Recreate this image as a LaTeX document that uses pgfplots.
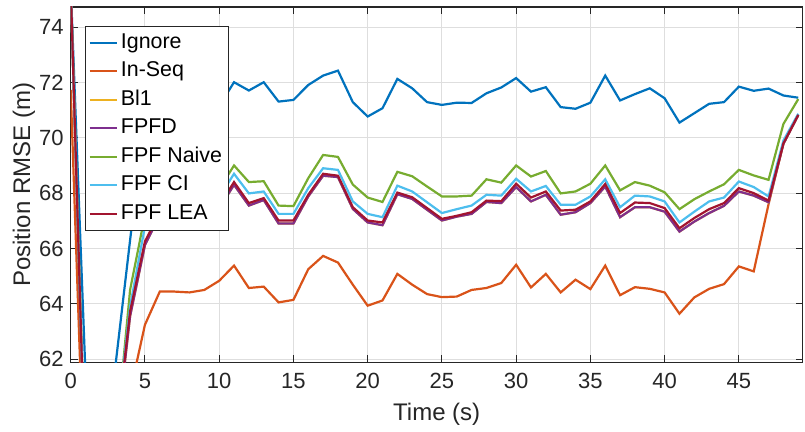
\documentclass[border=0pt]{standalone}
\usepackage{fontspec}
\setmainfont{Liberation Sans}
\usepackage{pgfplots}
\usepackage{pgfplotstable}
\pgfplotsset{compat=1.18}

% MATLAB default line colours
\definecolor{mBlue}{rgb}{0,0.447,0.741}
\definecolor{mOrange}{rgb}{0.850,0.325,0.098}
\definecolor{mYellow}{rgb}{0.929,0.694,0.125}
\definecolor{mPurple}{rgb}{0.494,0.184,0.556}
\definecolor{mGreen}{rgb}{0.466,0.674,0.188}
\definecolor{mCyan}{rgb}{0.301,0.745,0.933}
\definecolor{mRed}{rgb}{0.635,0.078,0.184}
\definecolor{axGray}{rgb}{0.15,0.15,0.15}

% Position RMSE per time step for each fusion strategy
\pgfplotstableread{
t  ign    inseq  bl1    fpfd   naive  ci     lea
0  75.5   71.73  75.5   75.5   75.5   75.5   75.5
1  61.4   56.1   57.2   57.2   57.8   57.6   57.5
2  59.0   55.0   55.8   55.8   56.0   56.0   56.0
3  61.7   57.0   58.8   58.8   58.8   59.2   59.0
4  66.3   60.8   63.55  63.55  64.5   63.9   63.72
5  70.8   63.24  66.12  66.12  67.2   66.8   66.25
6  71.6   64.44  67.2   67.2   68.3   67.8   67.3
7  71.3   64.44  67.5   67.5   68.6   68.1   67.6
8  71.8   64.41  67.3   67.3   68.4   67.9   67.4
9  71.5   64.5   67.6   67.6   68.7   68.2   67.7
10 71.15  64.83  67.45  67.45  68.15  67.85  67.55
11 72.01  65.38  68.3   68.3   69.0   68.7   68.4
12 71.71  64.57  67.55  67.55  68.4   67.99  67.64
13 72.01  64.62  67.75  67.75  68.43  68.06  67.82
14 71.31  64.05  66.9   66.9   67.55  67.25  67.01
15 71.37  64.14  66.9   66.9   67.53  67.25  67.01
16 71.91  65.25  67.88  67.88  68.54  68.18  67.94
17 72.25  65.73  68.63  68.63  69.38  68.9   68.7
18 72.43  65.49  68.58  68.58  69.31  68.84  68.63
19 71.29  64.69  67.43  67.43  68.31  67.7   67.49
20 70.77  63.93  66.94  66.94  67.84  67.25  67.01
21 71.07  64.12  66.84  66.84  67.68  67.13  66.94
22 72.13  65.08  67.96  67.96  68.77  68.27  68.02
23 71.79  64.69  67.79  67.79  68.61  68.06  67.85
24 71.29  64.35  67.4   67.4   68.24  67.67  67.46
25 71.19  64.24  67.01  67.01  67.88  67.28  67.07
26 71.27  64.26  67.15  67.15  67.88  67.42  67.18
27 71.26  64.5   67.25  67.25  67.91  67.55  67.31
28 71.61  64.57  67.68  67.68  68.5   67.94  67.73
29 71.82  64.75  67.64  67.64  68.38  67.91  67.71
30 72.16  65.41  68.22  68.22  69.0   68.52  68.34
31 71.67  64.59  67.7   67.7   68.6   68.06  67.84
32 71.83  65.08  67.94  67.94  68.8   68.26  68.06
33 71.11  64.41  67.22  67.22  67.99  67.58  67.37
34 71.05  64.87  67.31  67.31  68.06  67.58  67.4
35 71.27  64.53  67.64  67.64  68.34  67.88  67.7
36 72.25  65.38  68.24  68.24  69.0   68.5   68.33
37 71.35  64.31  67.13  67.13  68.1   67.49  67.28
38 71.58  64.6   67.49  67.49  68.4   67.91  67.66
39 71.79  64.54  67.49  67.49  68.27  67.88  67.64
40 71.43  64.41  67.33  67.33  68.03  67.7   67.46
41 70.55  63.64  66.61  66.61  67.42  66.94  66.73
42 70.89  64.23  66.97  66.97  67.78  67.33  67.1
43 71.23  64.54  67.28  67.28  68.06  67.7   67.42
44 71.29  64.71  67.54  67.54  68.32  67.84  67.64
45 71.85  65.35  68.06  68.06  68.84  68.42  68.18
46 71.7   65.17  67.91  67.91  68.64  68.22  68.0
47 71.78  67.6   67.67  67.67  68.48  67.88  67.73
48 71.53  69.8   69.78  69.78  70.5   69.9   69.8
49 71.45  70.83  70.82  70.82  71.4   70.87  70.83
}\rmse

\begin{document}
\begin{tikzpicture}
\begin{axis}[
  name=ax,
  scale only axis,
  width=366bp, height=177.7bp,
  xmin=0, xmax=49.3,
  ymin=61.88, ymax=74.73,
  xtick={0,5,...,45},
  ytick={62,64,...,74},
  /pgf/number format/assume math mode=true,
  ticklabel style={font=\fontsize{11bp}{13bp}\selectfont, text=axGray},
  xticklabel style={yshift=-2bp},
  label style={font=\fontsize{12bp}{14bp}\selectfont, text=axGray},
  xlabel={Time (s)},
  ylabel={Position RMSE (m)},
  xlabel style={at={(axis description cs:0.5,-0.146)}, anchor=center},
  ylabel style={at={(axis description cs:-0.064,0.5)}, anchor=center},
  grid=major,
  major grid style={draw=black!13, line width=0.5bp},
  axis line style={draw=axGray, line width=0.6bp},
  tick style={draw=axGray, line width=0.5bp},
  tick align=inside,
  major tick length=3.5bp,
  every axis plot/.append style={line width=1.1bp},
  legend cell align=left,
  legend image code/.code={\draw[#1] (0bp,0bp) -- (13.5bp,0bp);},
  legend style={
    at={(axis description cs:0.0195,0.947)}, anchor=north west,
    draw=axGray, line width=0.5bp, fill=white,
    inner xsep=1.5bp, inner ysep=2bp, row sep=1.75bp,
    font=\fontsize{10.7bp}{12bp}\selectfont,
    nodes={inner xsep=1.65bp, inner ysep=1bp, text height=8bp, text depth=2.5bp},
  },
]
\addplot[mBlue]   table[x=t, y=ign]   {\rmse};
\addplot[mOrange] table[x=t, y=inseq] {\rmse};
\addplot[mYellow] table[x=t, y=bl1]   {\rmse};
\addplot[mPurple] table[x=t, y=fpfd]  {\rmse};
\addplot[mGreen]  table[x=t, y=naive] {\rmse};
\addplot[mCyan]   table[x=t, y=ci]    {\rmse};
\addplot[mRed]    table[x=t, y=lea]   {\rmse};
\legend{Ignore, In-Seq, Bl1, FPFD, FPF Naive, FPF CI, FPF LEA}
\end{axis}
\pgfresetboundingbox
\path ([shift={(-35.35bp,-34.8bp)}]ax.south west) rectangle ([shift={(1.15bp,3.5bp)}]ax.north east);
\end{tikzpicture}
\end{document}
